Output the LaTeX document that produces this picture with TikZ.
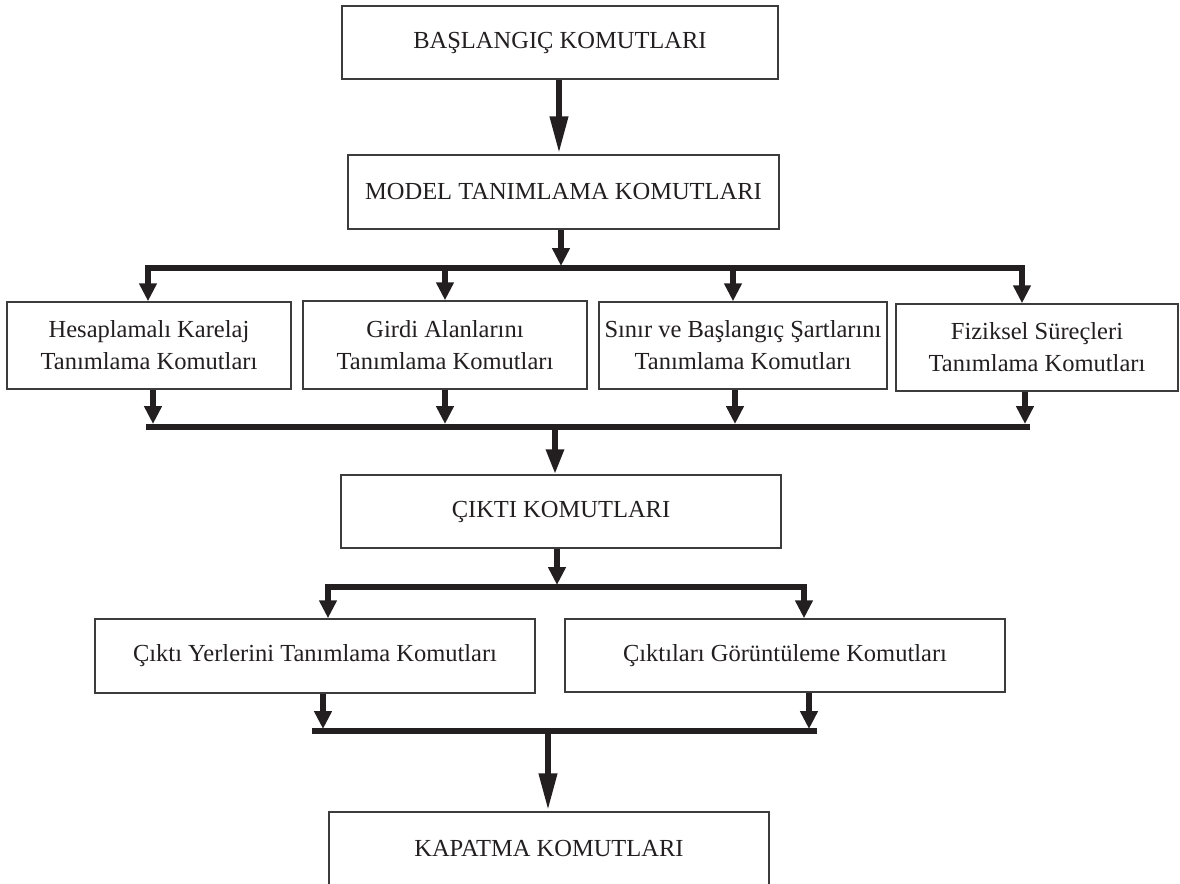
\documentclass[tikz,border=0pt]{standalone}
\usepackage{fontspec}
\setmainfont{Liberation Serif}
\usetikzlibrary{arrows.meta}
\definecolor{ink}{HTML}{231F20}
\definecolor{edge}{HTML}{3C3C3C}
\begin{document}
\begin{tikzpicture}[x=0.5pt,y=-0.5pt,
  box/.style={draw=edge, line width=0.75pt, fill=white, text=ink, align=center,
    inner sep=0pt, font=\fontsize{12.25pt}{16pt}\selectfont},
  bus/.style={draw=ink, line width=3pt},
  arrS/.style={draw=ink, line width=3pt, -{Triangle[width=8.5pt,length=9pt]}},
  arrM/.style={draw=ink, line width=3pt, -{Triangle[width=8.5pt,length=12.5pt]}},
  arrL/.style={draw=ink, line width=3.4pt, -{Triangle[width=8.5pt,length=19pt]}}]
\useasboundingbox (0,0) rectangle (1180,884);
\clip (0,0) rectangle (1180,884);

% boxes
\node[box, minimum width=218pt, minimum height=36.5pt] (b1) at (560,42.5) {BAŞLANGIÇ KOMUTLARI};
\node[box, minimum width=215.5pt, minimum height=37pt] (b2) at (563.5,192) {MODEL TANIMLAMA KOMUTLARI};
\node[box, minimum width=142pt, minimum height=43.5pt] (bA) at (149,345.5) {Hesaplamalı Karelaj\\Tanımlama Komutları};
\node[box, minimum width=142pt, minimum height=44pt] (bB) at (445,345) {Girdi Alanlarını\\Tanımlama Komutları};
\node[box, minimum width=144pt, minimum height=43.5pt] (bC) at (743,345.5) {Sınır ve Başlangıç Şartlarını\\Tanımlama Komutları};
\node[box, minimum width=141pt, minimum height=43.5pt] (bD) at (1037,347.5) {Fiziksel Süreçleri\\Tanımlama Komutları};
\node[box, minimum width=220pt, minimum height=36.5pt] (b3) at (561,511.5) {ÇIKTI KOMUTLARI};
\node[box, minimum width=220pt, minimum height=37pt] (b4) at (315,656) {Çıktı Yerlerini Tanımlama Komutları};
\node[box, minimum width=220pt, minimum height=36.5pt] (b5) at (785,655.5) {Çıktıları Görüntüleme Komutları};
\node[box, minimum width=220pt, minimum height=37pt] (b6) at (549,849) {KAPATMA KOMUTLARI};

% junction coordinates
\coordinate (a12) at (559,0);
\coordinate (s1a) at (148,268);
\coordinate (s1b) at (445,268);
\coordinate (s1c) at (733,268);
\coordinate (s1d) at (1022,268);
\coordinate (s1m) at (561,266);
\coordinate (s2a) at (153,424);
\coordinate (s2b) at (445,424);
\coordinate (s2c) at (735,424);
\coordinate (s2d) at (1025,424);
\coordinate (s2L) at (146,427);
\coordinate (s2R) at (1030,427);
\coordinate (s2m) at (555,427);
\coordinate (s3m) at (557,585);
\coordinate (s3a) at (328,587);
\coordinate (s3b) at (804,587);
\coordinate (s4a) at (323,729);
\coordinate (s4b) at (809,729);
\coordinate (s4L) at (312,731);
\coordinate (s4R) at (817,731);
\coordinate (s4m) at (548,731);

% top arrow
\draw[arrL] (a12 |- b1.south) -- (a12 |- b2.north);

% first fan-out
\draw[arrS] (s1m |- b2.south) -- (s1m);
\draw[bus] ([xshift=-1.5pt]s1a) -- ([xshift=1.5pt]s1d);
\draw[arrS] ([yshift=1.5pt]s1a) -- (s1a |- bA.north);
\draw[arrS] (s1b) -- (s1b |- bB.north);
\draw[arrS] (s1c) -- (s1c |- bC.north);
\draw[arrS] ([yshift=1.5pt]s1d) -- (s1d |- bD.north);

% first fan-in
\draw[arrS] (s2a |- bA.south) -- (s2a);
\draw[arrS] (s2b |- bB.south) -- (s2b);
\draw[arrS] (s2c |- bC.south) -- (s2c);
\draw[arrS] (s2d |- bD.south) -- (s2d);
\draw[bus] (s2L) -- (s2R);
\draw[arrM] (s2m) -- (s2m |- b3.north);

% second fan-out
\draw[arrS] (s3m |- b3.south) -- (s3m);
\draw[bus] ([xshift=-1.5pt]s3a) -- ([xshift=1.5pt]s3b);
\draw[arrS] ([yshift=1.5pt]s3a) -- (s3a |- b4.north);
\draw[arrS] ([yshift=1.5pt]s3b) -- (s3b |- b5.north);

% second fan-in
\draw[arrS] (s4a |- b4.south) -- (s4a);
\draw[arrS] (s4b |- b5.south) -- (s4b);
\draw[bus] (s4L) -- (s4R);
\draw[arrL] (s4m) -- (s4m |- b6.north);
\end{tikzpicture}
\end{document}
